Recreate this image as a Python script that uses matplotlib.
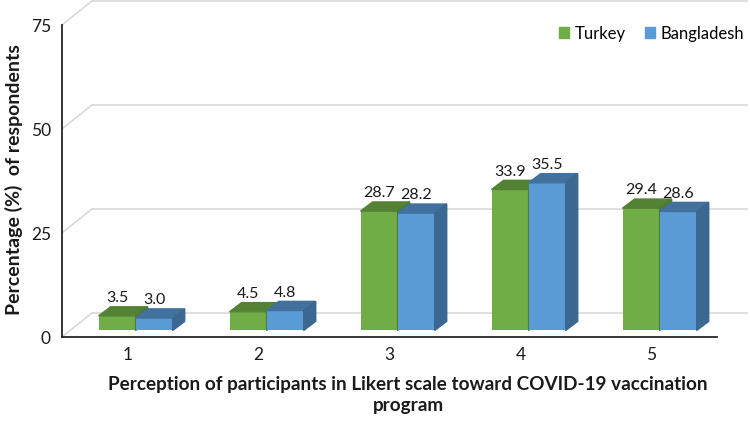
import matplotlib.pyplot as plt
from matplotlib.patches import Polygon, Patch

plt.rcParams['font.family'] = ['Lato', 'DejaVu Sans']

# ---------------- data ----------------
categories = ['1', '2', '3', '4', '5']
turkey = [3.5, 4.5, 28.7, 33.9, 29.4]
bangladesh = [3.0, 4.8, 28.2, 35.5, 28.6]
series_names = ['Turkey', 'Bangladesh']
yticks = [0, 25, 50, 75]

front_cols = ['#70AD47', '#5B9BD5']
top_cols = ['#548235', '#41719C']
side_cols = ['#4E7A31', '#3B6890']
grid_col = '#D9D9D9'

# pseudo 3d geometry (data units)
ddx, ddy = 0.229, 5.8      # full depth of the floor / walls
d0 = 0.27                  # bars start this far into the depth
sdx, sdy = 0.092, 2.2      # depth of a bar itself
w = 0.283                  # width of one bar

fig = plt.figure(figsize=(7.5, 4.23), dpi=100)
ax = fig.add_axes([62 / 750, 86 / 423, 655 / 750, 312 / 423])
ax.set_xlim(0.5, 5.5)
ax.set_ylim(0, 75)

# back wall gridlines + left wall diagonals
for lv in yticks:
    ax.plot([0.5 + ddx, 5.5 + ddx], [lv + ddy, lv + ddy], color=grid_col, lw=1.2,
            clip_on=False, zorder=1)
    ax.plot([0.5, 0.5 + ddx], [lv, lv + ddy], color=grid_col, lw=1.2,
            clip_on=False, zorder=1)

xs = range(1, len(categories) + 1)
fx, fy = d0 * ddx, d0 * ddy
for i, vals in enumerate([turkey, bangladesh]):
    for x, v in zip(xs, vals):
        xl = x - w + i * w + fx
        ax.bar(xl, v, width=w, bottom=fy, align='edge', color=front_cols[i],
               clip_on=False, zorder=3)
        top = [(xl, fy + v), (xl + w, fy + v), (xl + w + sdx, fy + v + sdy), (xl + sdx, fy + v + sdy)]
        side = [(xl + w, fy), (xl + w, fy + v), (xl + w + sdx, fy + v + sdy), (xl + w + sdx, fy + sdy)]
        ax.add_patch(Polygon(top, closed=True, color=top_cols[i], zorder=3, clip_on=False))
        ax.add_patch(Polygon(side, closed=True, color=side_cols[i], zorder=3, clip_on=False))
        ax.text(xl + w / 2, fy + v + sdy + 0.4, f'{v:.1f}', ha='center', va='bottom',
                fontsize=11.5, color='#1a1a1a', zorder=5)

for s in ['top', 'right']:
    ax.spines[s].set_visible(False)
for s in ['left', 'bottom']:
    ax.spines[s].set_color('#262626')
    ax.spines[s].set_linewidth(1.3)
ax.set_xticks(list(xs))
ax.set_xticklabels(categories)
ax.set_yticks(yticks)
ax.tick_params(length=0, labelsize=12.5, colors='#1a1a1a')
ax.tick_params(axis='y', pad=8)
ax.tick_params(axis='x', pad=7)
ax.set_facecolor('none')

fig.text(14 / 750, 1 - 180 / 423, 'Percentage (%)  of respondents', rotation=90,
         ha='center', va='center', fontsize=14, fontweight='bold', color='#1a1a1a')
fig.text(408 / 750, 1 - 395 / 423,
         'Perception of participants in Likert scale toward COVID-19 vaccination\nprogram',
         ha='center', va='center', fontsize=13.6, fontweight='bold', color='#1a1a1a',
         linespacing=1.3)

handles = [Patch(color=front_cols[0]), Patch(color=front_cols[1])]
fig.legend(handles, series_names, loc='upper right', bbox_to_anchor=(1.012, 0.975),
           frameon=False, fontsize=12, handlelength=0.6, handleheight=0.6,
           handletextpad=0.35, columnspacing=1.1, ncol=2)

fig.savefig('out.png', dpi=100)
